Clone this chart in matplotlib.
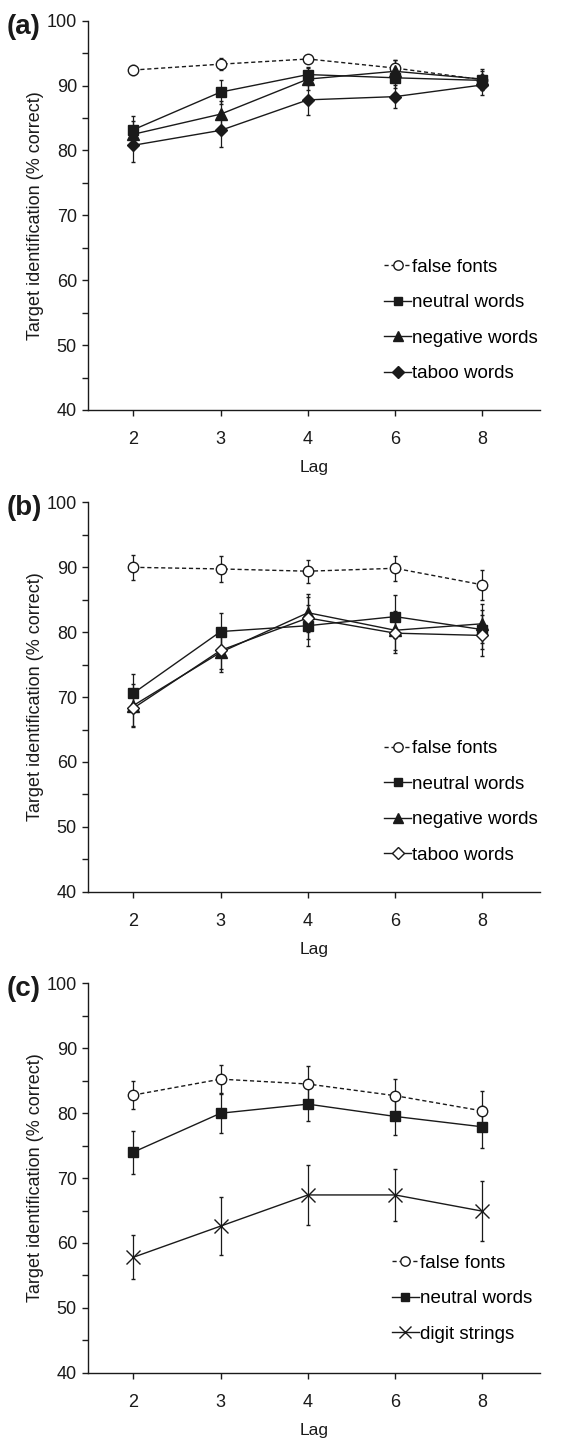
import numpy as np
import matplotlib
matplotlib.use('Agg')
from matplotlib import pyplot as plt
from matplotlib.lines import Line2D
from matplotlib.ticker import MultipleLocator

plt.rcParams['font.family'] = ['Liberation Sans', 'DejaVu Sans']

lags = ['2', '3', '4', '6', '8']

# panel (a)
a_false = [92.4, 93.3, 94.1, 92.7, 90.9]
a_false_err = [0.7, 0.9, 0.5, 1.2, 0.8]
a_neutral = [83.2, 89.0, 91.7, 91.2, 90.8]
a_neutral_err = [2.1, 1.9, 1.2, 1.5, 1.5]
a_negative = [82.5, 85.6, 91.0, 92.2, 91.0]
a_negative_err = [2.0, 2.0, 1.7, 1.8, 1.5]
a_taboo = [80.8, 83.1, 87.8, 88.3, 90.1]
a_taboo_err = [2.6, 2.5, 2.3, 1.8, 1.6]

# panel (b)
b_false = [90.0, 89.75, 89.4, 89.85, 87.3]
b_false_err = [1.9, 2.0, 1.8, 1.9, 2.3]
b_neutral = [70.6, 80.1, 81.0, 82.4, 80.4]
b_neutral_err = [2.9, 2.9, 3.2, 3.3, 3.0]
b_negative = [68.7, 76.9, 83.0, 80.3, 81.3]
b_negative_err = [3.3, 3.0, 2.9, 3.0, 3.0]
b_taboo = [68.3, 77.2, 82.2, 79.85, 79.5]
b_taboo_err = [2.8, 2.8, 3.2, 3.0, 3.1]

# panel (c)
c_false = [82.8, 85.25, 84.5, 82.7, 80.35]
c_false_err = [2.1, 2.2, 2.7, 2.6, 3.1]
c_neutral = [74.0, 80.0, 81.4, 79.5, 77.9]
c_neutral_err = [3.3, 3.0, 2.6, 2.9, 3.2]
c_digit = [57.8, 62.6, 67.4, 67.4, 64.9]
c_digit_err = [3.4, 4.5, 4.6, 4.0, 4.6]

ink = '#1a1a1a'
x = np.arange(len(lags))

fig = plt.figure(figsize=(5.76, 14.38), dpi=100)
left, width, height = 0.1528, 0.7847, 0.2707
bottoms = [0.7149, 0.3799, 0.0454]


def series(ax, y, err, label, marker, face, ls='-', ms=7, mew=1.0):
    dash = (3, 2) if ls == '--' else (None, None)
    ax.errorbar(x, y, yerr=err, color=ink, lw=1.0, ls=ls, marker=marker,
                ms=ms, mfc=face, mec=ink, mew=mew, ecolor=ink, elinewidth=0.9,
                capsize=1.6, capthick=0.9, dashes=dash)
    # legend handle without the error bar
    return Line2D([], [], color=ink, lw=1.0, ls=ls, marker=marker, ms=ms * 0.9,
                  mfc=face, mec=ink, mew=mew, dashes=dash, label=label)


def style(ax, tag, handles, leg_anchor):
    ax.set_xlim(-0.52, 4.66)
    ax.set_ylim(40, 100)
    ax.set_xticks(x)
    ax.set_xticklabels(lags)
    ax.yaxis.set_major_locator(MultipleLocator(10))
    ax.yaxis.set_minor_locator(MultipleLocator(5))
    for s in ['top', 'right']:
        ax.spines[s].set_visible(False)
    for s in ['left', 'bottom']:
        ax.spines[s].set_linewidth(1.0)
        ax.spines[s].set_color(ink)
    ax.tick_params(which='both', direction='out', length=4, width=1.0,
                   colors=ink, labelsize=13, pad=4)
    ax.tick_params(axis='x', pad=11)
    ax.set_xlabel('Lag', fontsize=12.5, color=ink, labelpad=9)
    ax.set_ylabel('Target identification (% correct)', fontsize=13, color=ink)
    ax.yaxis.set_label_coords(-0.097, 0.5)
    ax.text(-0.18, 0.985, tag, transform=ax.transAxes, ha='left', va='center',
            fontsize=20, fontweight='bold', color=ink)
    ax.legend(handles=handles, loc='upper left', bbox_to_anchor=leg_anchor,
              frameon=False, fontsize=13.5, handlelength=1.45, handletextpad=0.05,
              labelspacing=0.98, borderpad=0, borderaxespad=0, numpoints=1)


ax = fig.add_axes([left, bottoms[0], width, height])
h = [series(ax, a_false, a_false_err, 'false fonts', 'o', 'white', ls='--', ms=7.5),
     series(ax, a_neutral, a_neutral_err, 'neutral words', 's', ink),
     series(ax, a_negative, a_negative_err, 'negative words', '^', ink, ms=8),
     series(ax, a_taboo, a_taboo_err, 'taboo words', 'D', ink, ms=6.5)]
style(ax, '(a)', h, (0.655, 0.389))

ax = fig.add_axes([left, bottoms[1], width, height])
h = [series(ax, b_false, b_false_err, 'false fonts', 'o', 'white', ls='--', ms=7.5),
     series(ax, b_neutral, b_neutral_err, 'neutral words', 's', ink),
     series(ax, b_negative, b_negative_err, 'negative words', '^', ink, ms=8),
     series(ax, b_taboo, b_taboo_err, 'taboo words', 'D', 'white', ms=6.5)]
style(ax, '(b)', h, (0.655, 0.389))

ax = fig.add_axes([left, bottoms[2], width, height])
h = [series(ax, c_false, c_false_err, 'false fonts', 'o', 'white', ls='--', ms=7.5),
     series(ax, c_neutral, c_neutral_err, 'neutral words', 's', ink),
     series(ax, c_digit, c_digit_err, 'digit strings', 'x', ink, ms=10)]
style(ax, '(c)', h, (0.672, 0.303))

fig.savefig('out.png', dpi=100)
